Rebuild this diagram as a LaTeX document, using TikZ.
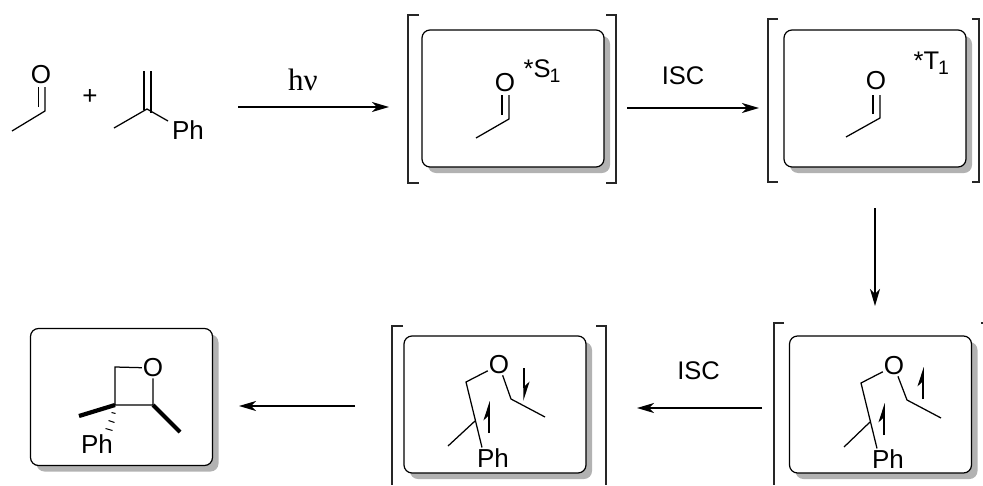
\documentclass[tikz,border=0pt]{standalone}
\usepackage{fontspec}
\setmainfont{Liberation Sans}
\newfontfamily\serifhv{Liberation Serif}
\usetikzlibrary{arrows.meta,shadows}
\newcommand{\subone}{\kern-1pt\raisebox{-5pt}{\fontsize{19.5}{19.5}\selectfont 1}}
\begin{document}
\begin{tikzpicture}[x=1pt,y=-1pt,line width=1.25pt,
	atom/.style={font=\fontsize{26}{26}\selectfont, inner sep=0.5pt},
	label/.style={font=\fontsize{25.5}{25.5}\selectfont, inner sep=0pt},
	molbox/.style={draw, fill=white, rounded corners=8pt, line width=1.2pt, minimum width=182pt, minimum height=137pt,
		drop shadow={shadow xshift=6pt, shadow yshift=-6pt, fill=black!30, opacity=1}},
	rxn/.style={-{Stealth[length=17pt,width=10pt,inset=5pt]}, line width=1.5pt},
	spin/.style={-{Stealth[left,length=17pt,width=11pt,inset=5pt]}, line width=1.5pt},
	bold/.style={line width=4.2pt},
	brk/.style={line width=1.1pt, draw=black!85}]
	\useasboundingbox (0,0) rectangle (983,485);

	% boxes
	\node[molbox] (sbox) at (513,98.5) {};
	\node[molbox] (tbox) at (875,98.5) {};
	\node[molbox] (brbox) at (880.5,404.5) {};
	\node[molbox] (bmbox) at (495,404.5) {};
	\node[molbox] (prbox) at (121.5,397) {};

	% brackets
	\draw[brk] (419,15) -- (408,15) -- (408,183) -- (419,183);
	\draw[brk] (606,15) -- (616,15) -- (616,183) -- (606,183);
	\draw[brk] (778,19) -- (768,19) -- (768,182) -- (778,182);
	\draw[brk] (972,19) -- (979,19) -- (979,182) -- (972,182);
	\draw[brk] (403,326) -- (392,326) -- (392,485);
	\draw[brk] (596,326) -- (606,326) -- (606,485);
	\draw[brk] (784,323) -- (774,323) -- (774,485);
	\draw[brk] (981,323) -- (983,323);

	% reactants
	\node[atom] (o1) at (41,75) {O};
	\coordinate (me1) at (12,131);
	\coordinate (c1) at (45,111);
	\draw (me1) -- (c1) -- (45,87);
	\draw (38.5,107) -- (38.5,87);
	\node[label] (plus) at (90,97) {\fontsize{26}{26}\selectfont +};
	\coordinate (me2) at (114,128);
	\coordinate (c2) at (147,109);
	\node[atom] (ph1) at (188,130) {Ph};
	\draw (me2) -- (c2) -- (168,121);
	\draw (144,71) -- (144,110);
	\draw (151,71) -- (151,113);

	% excited states
	\node[atom] (o2) at (505,83) {O};
	\coordinate (me3) at (476,138);
	\coordinate (c3) at (509,119);
	\draw (me3) -- (c3) -- (509,95);
	\draw (502,115) -- (502,95);
	\node[label, anchor=base west] (sone) at (523,77) {*S\subone};
	\node[atom] (o3) at (876,81) {O};
	\coordinate (me4) at (846,137);
	\coordinate (c4) at (880,118);
	\draw (me4) -- (c4) -- (880,95);
	\draw (873,114) -- (873,95);
	\node[label, anchor=base west] (tone) at (913,69) {*T\subone};

	% biradical, right
	\node[atom] (o4) at (894,366) {O};
	\node[atom] (ph2) at (888,459) {Ph};
	\coordinate (ch2a) at (861,383);
	\coordinate (qa) at (870,422);
	\coordinate (mea) at (844,447);
	\coordinate (cha) at (907,400);
	\coordinate (mec) at (941,418);
	\draw (o4) -- (ch2a) -- (ph2.north -| 877,0);
	\draw (mea) -- (qa);
	\draw (o4) -- (cha) -- (mec);
	\draw[spin] (884,435) -- (884,403);
	\draw[spin] (923,399) -- (923,367);

	% biradical, middle
	\node[atom] (o5) at (499,365) {O};
	\node[atom] (ph3) at (493,458) {Ph};
	\coordinate (ch2b) at (466,382);
	\coordinate (qb) at (475,421);
	\coordinate (meb) at (448,446);
	\coordinate (chb) at (511,399);
	\coordinate (med) at (545,417);
	\draw (o5) -- (ch2b) -- (ph3.north -| 482,0);
	\draw (meb) -- (qb);
	\draw (o5) -- (chb) -- (med);
	\draw[spin] (489,433) -- (489,401);
	\draw[spin] (524,368) -- (524,401);

	% oxetane
	\node[atom] (o6) at (153,368) {O};
	\node[atom] (ph4) at (97,444) {Ph};
	\coordinate (cha1) at (115,367);
	\coordinate (c5) at (115,405);
	\coordinate (c6) at (153,405);
	\draw (o6) -- (cha1) -- (c5) -- (c6) -- (o6);
	\draw[bold] (c5) -- (79,416);
	\draw[bold] (c6) -- (180,432);
	\draw[line width=1pt] (111.5,412.5) -- (115.5,413.5);
	\draw[line width=1pt] (108.5,420.5) -- (114.5,422.5);
	\draw[line width=1pt] (105.5,428.5) -- (112.5,430.5);

	% arrows
	\draw[rxn] (238,107) -- (389,107);
	\node[label] (hv) at (303,80) {\serifhv\fontsize{31}{31}\selectfont hν};
	\draw[rxn] (627,108) -- (759,108);
	\node[label] (isca) at (683,76) {ISC};
	\draw[rxn] (875,208) -- (875,306);
	\draw[rxn] (762,408) -- (637,408);
	\node[label] (iscb) at (698.5,371) {ISC};
	\draw[rxn] (355,406) -- (239,406);
\end{tikzpicture}
\end{document}
